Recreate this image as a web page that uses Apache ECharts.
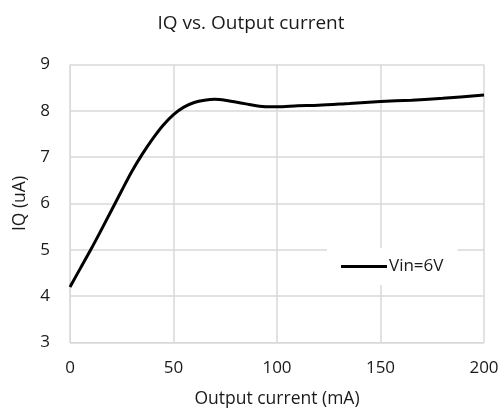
<!DOCTYPE html>
<html>
<head>
<meta charset="utf-8">
<script src="https://cdn.jsdelivr.net/npm/echarts@6/dist/echarts.min.js"></script>
<style>html,body{margin:0;padding:0;background:#fff}#c{width:502px;height:416px}</style>
</head>
<body>
<div id="c"></div>
<script>
const xValues = [0, 5, 10, 15, 20, 25, 30, 35, 40, 45, 50, 55, 60, 65, 70, 75, 80, 85, 90, 95, 100, 110, 120, 135, 150, 165, 180, 200];
const iqVin6 = [4.2, 4.6, 5.0, 5.42, 5.85, 6.28, 6.7, 7.07, 7.4, 7.69, 7.92, 8.08, 8.18, 8.23, 8.25, 8.23, 8.19, 8.15, 8.11, 8.09, 8.09, 8.11, 8.12, 8.16, 8.2, 8.23, 8.27, 8.34];
const seriesName = 'Vin=6V';
const FONT = 'Open Sans';
const chart = echarts.init(document.getElementById('c'));
chart.setOption({
  backgroundColor: '#fff',
  animation: false,
  title: {
    text: 'IQ vs. Output current', left: 'center', top: 9,
    textStyle: { fontFamily: FONT, fontSize: 19, fontWeight: 'normal', color: '#1a1a1a' }
  },
  grid: { left: 70, right: 18, top: 64.5, bottom: 73.5 },
  legend: {
    data: [seriesName], left: 327, top: 248,
    backgroundColor: '#fff', padding: [10, 14, 10, 14],
    itemWidth: 46, itemHeight: 3, itemGap: 4,
    icon: 'rect',
    textStyle: { fontFamily: FONT, fontSize: 17, color: '#1a1a1a', padding: [0, 0, 0, -3] }
  },
  xAxis: {
    type: 'value', min: 0, max: 200, interval: 50,
    name: 'Output current (mA)', nameLocation: 'middle', nameGap: 48,
    nameTextStyle: { fontFamily: FONT, fontSize: 17.5, color: '#1a1a1a' },
    axisLine: { show: true, lineStyle: { color: '#d9d9d9' } },
    axisTick: { show: false },
    axisLabel: { fontFamily: FONT, fontSize: 17, color: '#1a1a1a', margin: 17 },
    splitLine: { show: true, lineStyle: { color: '#d9d9d9', width: 1.5 } }
  },
  yAxis: {
    type: 'value', min: 3, max: 9, interval: 1,
    name: 'IQ (uA)', nameLocation: 'middle', nameGap: 37, nameRotate: 90,
    nameTextStyle: { fontFamily: FONT, fontSize: 17.5, color: '#1a1a1a' },
    axisLine: { show: true, lineStyle: { color: '#d9d9d9' } },
    axisTick: { show: false },
    axisLabel: { fontFamily: FONT, fontSize: 17, color: '#1a1a1a', margin: 20 },
    splitLine: { show: true, lineStyle: { color: '#d9d9d9', width: 1.5 } }
  },
  series: [{
    name: seriesName, type: 'line', smooth: 0.3, symbol: 'none',
    lineStyle: { color: '#000', width: 3 }, itemStyle: { color: '#000' },
    data: xValues.map((x, i) => [x, iqVin6[i]])
  }]
});
</script>
</body>
</html>
